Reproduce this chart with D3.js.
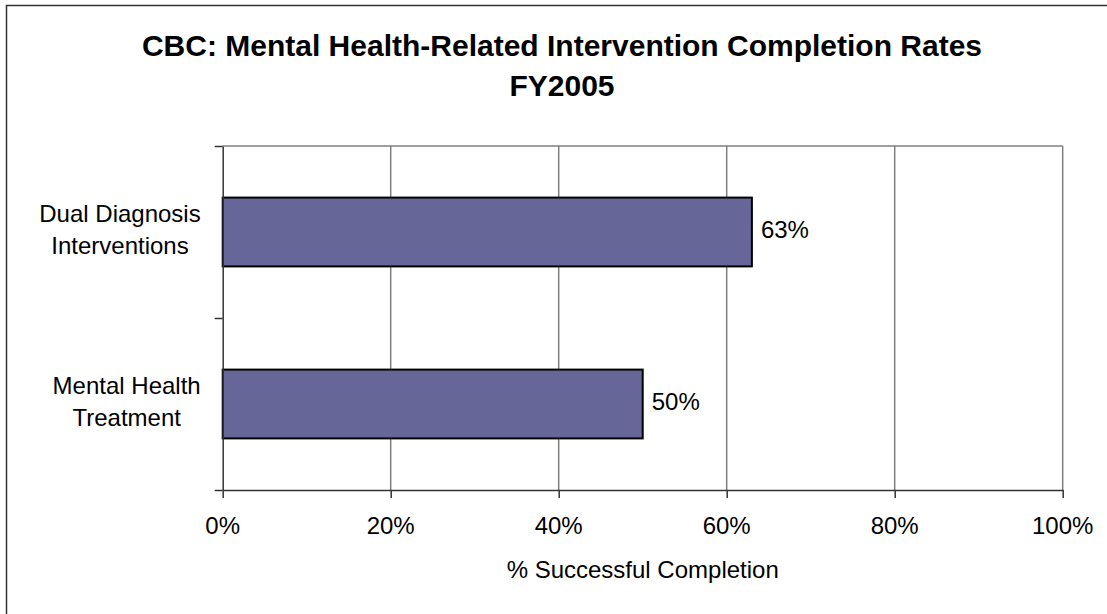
<html lang="en">
<head>
  <meta charset="UTF-8"/>
  <script src="https://d3js.org/d3.v7.min.js"></script>
  <style>
body {
  margin: 0;
  font-family: 'Liberation Sans', Arial, sans-serif;
  background: white;
}

svg {
  display: block;
}

text {
  fill: black;
}

text.title {
  font-size: 30px;
  font-weight: bold;
}

text.cat, text.tick_label, text.value, text.axis_title {
  font-size: 24px;
}

.grid line {
  stroke: #808080;
  stroke-width: 1.5;
}

.axis path, .axis line {
  stroke: #333;
  stroke-width: 1.5;
}

.bar {
  fill: #666699;
  stroke: black;
  stroke-width: 2;
}
</style>
</head>
<body>
<svg width="1107" height="614"></svg>

<script>

  // data
  const categories = ['Dual Diagnosis Interventions', 'Mental Health Treatment'];
  const labelLines = [['Dual Diagnosis', 'Interventions'], ['Mental Health', 'Treatment']];
  const values = [63, 50];
  const xTicks = [0, 20, 40, 60, 80, 100];
  const titleLines = ['CBC: Mental Health-Related Intervention Completion Rates', 'FY2005'];

  const svg = d3.select('svg');

  const margin = { left: 222.7, right: 44.3, top: 146, bottom: 124 };
  const width = 1107 - margin.left - margin.right;
  const height = 614 - margin.top - margin.bottom;

  // outer chart border (right/bottom edges fall outside the picture)
  svg.append('rect')
    .attr('x', 6.5)
    .attr('y', 5.5)
    .attr('width', 1300)
    .attr('height', 800)
    .attr('fill', 'none')
    .attr('stroke', '#333')
    .attr('stroke-width', 1.5);

  svg.selectAll('text.title')
    .data(titleLines)
    .enter().append('text')
    .attr('class', 'title')
    .attr('text-anchor', 'middle')
    .attr('x', 562)
    .attr('y', (d, i) => 56 + i * 40)
    .text(d => d);

  const chart = svg.append('g')
    .attr('transform', `translate(${margin.left},${margin.top})`);

  const x = d3.scaleLinear()
    .domain([0, 100])
    .range([0, width]);

  const y = d3.scaleBand()
    .domain(categories)
    .range([0, height])
    .paddingInner(0.6)
    .paddingOuter(0.3);

  // category boundaries for the y tick marks
  const yEdges = d3.scaleLinear()
    .domain([0, categories.length])
    .range([0, height]);

  // vertical gridlines + top frame
  chart.append('g')
    .attr('class', 'grid')
    .selectAll('line')
    .data(xTicks.slice(1))
    .enter().append('line')
    .attr('x1', d => x(d))
    .attr('x2', d => x(d))
    .attr('y1', 0)
    .attr('y2', height);

  chart.append('line')
    .attr('x1', 0)
    .attr('x2', width)
    .attr('y1', 0)
    .attr('y2', 0)
    .attr('stroke', '#808080')
    .attr('stroke-width', 1.5);

  // bars
  chart.selectAll('rect.bar')
    .data(values)
    .enter().append('rect')
    .attr('class', 'bar')
    .attr('x', x(0))
    .attr('y', (d, i) => y(categories[i]))
    .attr('width', d => x(d) - x(0))
    .attr('height', y.bandwidth());

  // value labels
  chart.selectAll('text.value')
    .data(values)
    .enter().append('text')
    .attr('class', 'value')
    .attr('x', d => x(d) + 9)
    .attr('y', (d, i) => y(categories[i]) + y.bandwidth() / 2 + 6)
    .text(d => d + '%');

  // x axis
  chart.append('g')
    .attr('class', 'axis')
    .attr('transform', `translate(0,${height})`)
    .call(d3.axisBottom(x).tickValues(xTicks).tickSize(8).tickSizeOuter(0).tickFormat(''));

  chart.selectAll('text.tick_label')
    .data(xTicks)
    .enter().append('text')
    .attr('class', 'tick_label')
    .attr('text-anchor', 'middle')
    .attr('x', d => x(d))
    .attr('y', height + 44)
    .text(d => d + '%');

  // y axis
  chart.append('g')
    .attr('class', 'axis')
    .call(d3.axisLeft(yEdges).tickValues(d3.range(categories.length + 1)).tickSize(8).tickSizeOuter(0).tickFormat(''));

  // category labels: block centered, right edge near the axis
  labelLines.forEach((lines, i) => {
    const g = chart.append('g');
    const cy = y(categories[i]) + y.bandwidth() / 2;
    const texts = g.selectAll('text')
      .data(lines)
      .enter().append('text')
      .attr('class', 'cat')
      .attr('text-anchor', 'middle')
      .attr('y', (d, j) => cy - 10 + j * 31.5)
      .text(d => d);
    let maxW = 0;
    texts.each(function () { maxW = Math.max(maxW, this.getComputedTextLength()); });
    texts.attr('x', -22 - maxW / 2);
  });

  chart.append('text')
    .attr('class', 'axis_title')
    .attr('text-anchor', 'middle')
    .attr('x', width / 2)
    .attr('y', height + 88)
    .text('% Successful Completion');

</script>
</body>
</html>
